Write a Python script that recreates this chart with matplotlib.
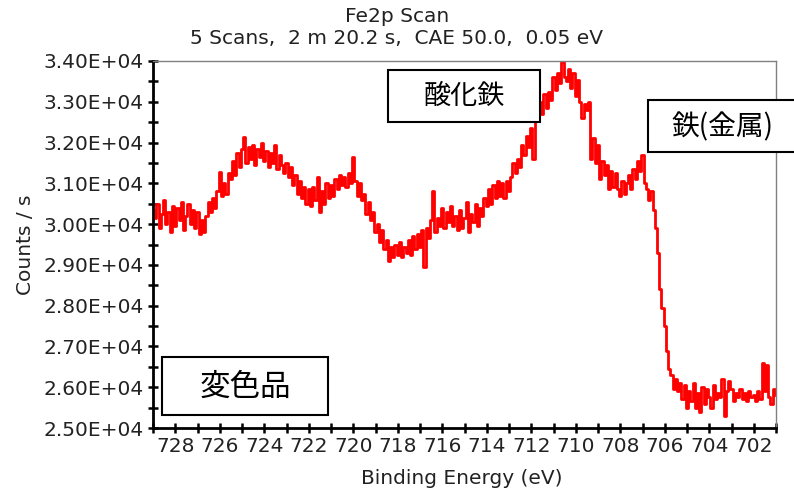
import numpy as np
import matplotlib
matplotlib.use("Agg")
import matplotlib.pyplot as plt
from matplotlib.patches import Rectangle
from matplotlib.ticker import MultipleLocator, StrMethodFormatter

# ── Data (0.1 eV steps from 729.0 down to 701.0) ─────────────────────────────
counts = [
    30350, 30150, 30500, 29900, 30250, 30600, 30000, 30300, 29800, 30450, 29950,  # 729.0-728.0
    30400, 30100, 30550, 29850, 30200, 30500, 30000, 30350, 29900, 30300,         # 727.9-727.0
    29750, 30100, 29800, 30200, 30550, 30300, 30650, 30400, 30800, 31280,         # 726.9-726.0
    30700, 31000, 30750, 31250, 31100, 31550, 31200, 31750, 31400, 31850,         # 725.9-725.0
    32140, 31500, 31900, 31600, 31950, 31450, 31850, 31650, 32000, 31550,         # 724.9-724.0
    31800, 31400, 31750, 31500, 31950, 31350, 31700, 31450, 31250, 31500,         # 723.9-723.0
    31150, 31400, 30950, 31200, 30750, 31050, 30650, 30900, 30500, 30850,         # 722.9-722.0
    30450, 30900, 30600, 31150, 30300, 30800, 30500, 31000, 30650, 30950,         # 721.9-721.0
    30700, 31100, 30850, 31200, 30950, 31150, 30900, 31250, 31000, 31650,         # 720.9-720.0
    31050, 30700, 31000, 30600, 30750, 30250, 30550, 30100, 30300, 29800,         # 719.9-719.0
    30000, 29550, 29850, 29400, 29600, 29100, 29450, 29200, 29500, 29250,         # 718.9-718.0
    29550, 29200, 29450, 29300, 29600, 29250, 29700, 29400, 29750, 29450,         # 717.9-717.0
    29850, 28950, 29900, 29650, 30100, 30800, 29800, 30150, 29950, 30400,         # 716.9-716.0
    29900, 30300, 30050, 30450, 29950, 30200, 29850, 30350, 29900, 30150,         # 715.9-715.0
    30550, 29800, 30250, 30050, 30500, 29950, 30400, 30200, 30650, 30450,         # 714.9-714.0
    30850, 30500, 30950, 30650, 31050, 30700, 31000, 30650, 31050, 30800,         # 713.9-713.0
    31150, 31500, 31250, 31600, 31400, 31950, 31700, 32150, 31900, 32350,         # 712.9-712.0
    31600, 33100, 32650, 33000, 32700, 33200, 32850, 33250, 33050, 33600,         # 711.9-711.0
    33300, 33700, 33450, 33970, 33600, 33500, 33800, 33350, 33700, 33150,         # 710.9-710.0
    33530, 33000, 32600, 32950, 32800, 33000, 31600, 32100, 31500, 31950,         # 709.9-709.0
    31100, 31550, 31200, 31450, 30850, 31300, 30900, 31250, 30850, 30700,         # 708.9-708.0
    31050, 30750, 31000, 31200, 30850, 31350, 31100, 31550, 31300, 31700,         # 707.9-707.0
    31000, 30850, 30600, 30800, 30350, 29900, 29300, 28400, 27950, 27500,         # 706.9-706.0
    26900, 26450, 26300, 25950, 26200, 25900, 26100, 25700, 26050, 25500,         # 705.9-705.0
    25900, 25650, 26100, 25500, 25850, 25400, 26000, 25600, 25950, 25750,         # 704.9-704.0
    25500, 26050, 25700, 25850, 25750, 26200, 25300, 25900, 26150, 25950,         # 703.9-703.0
    25650, 25850, 25750, 25950, 25700, 25850, 25650, 25900, 25750, 25800,         # 702.9-702.0
    25650, 25900, 25700, 26600, 25900, 26550, 25750, 25600, 25950, 25800,         # 701.9-701.0
]
energy = np.linspace(729.0, 701.0, len(counts))

title_lines = ["Fe2p Scan", "5 Scans,  2 m 20.2 s,  CAE 50.0,  0.05 eV"]
# label, centre (px), box (x0, y0, x1, y1 px), font size
labels = [
    ("酸化鉄", (464, 96), (388, 70, 540, 122), 19.5),
    ("鉄(金属)", (722, 127), (648, 100, 800, 152), 20),
    ("変色品", (245, 387), (162, 357, 328, 415), 22),
]

W, H = 794, 493
TXT = "#222222"
FS = 14.5
plt.rcParams['font.family'] = ['DejaVu Sans']

fig = plt.figure(figsize=(W / 100, H / 100), dpi=100)
ax = fig.add_axes([153 / W, 1 - 428 / H, 623 / W, 367 / H])

ax.plot(energy, counts, color='#ff0000', lw=2.0, drawstyle='steps-mid')

ax.set_xlim(729, 701)
ax.set_ylim(25000, 34000)

ax.xaxis.set_major_locator(MultipleLocator(2))
ax.xaxis.set_minor_locator(MultipleLocator(1))
ax.yaxis.set_major_locator(MultipleLocator(1000))
ax.yaxis.set_minor_locator(MultipleLocator(500))
ax.yaxis.set_major_formatter(StrMethodFormatter('{x:.2E}'))

ax.tick_params(which='both', direction='inout', length=7, width=1.8,
               color='black', top=False, right=False)
ax.tick_params(which='major', labelsize=FS, labelcolor=TXT, pad=3)

for side in ('left', 'bottom'):
    ax.spines[side].set_linewidth(2.0)
    ax.spines[side].set_color('black')
for side in ('top', 'right'):
    ax.spines[side].set_linewidth(1.0)
    ax.spines[side].set_color('#808080')

ax.set_xlabel("Binding Energy (eV)", fontsize=FS, color=TXT)
ax.set_ylabel("Counts / s", fontsize=FS, color=TXT)
ax.xaxis.set_label_coords(0.495, -0.112)
ax.yaxis.set_label_coords(-0.19, 0.5)

fig.text(0.5, 1 - 16 / H, title_lines[0], ha='center', va='center', fontsize=FS, color=TXT)
fig.text(0.5, 1 - 38 / H, title_lines[1], ha='center', va='center', fontsize=FS, color=TXT)

# ── annotation boxes ───────────────────────────────────────────────────────────
for text, (cx, cy), (x0, y0, x1, y1), fs in labels:
    fig.add_artist(Rectangle((x0 / W, 1 - y1 / H), (x1 - x0) / W, (y1 - y0) / H,
                             transform=fig.transFigure, facecolor='white',
                             edgecolor='black', lw=1.5, zorder=3))
    fig.text(cx / W, 1 - cy / H, text, ha='center', va='center', fontsize=fs,
             family=['Noto Sans CJK JP', 'DejaVu Sans'], color='black', zorder=4)

fig.savefig("out.png", dpi=100)
